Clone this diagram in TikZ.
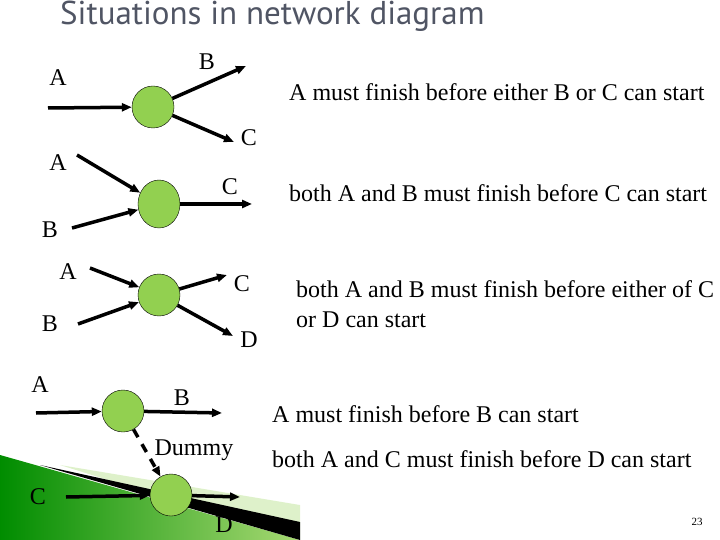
\documentclass[tikz,border=0pt]{standalone}
\usepackage{fontspec}
\setmainfont{Liberation Serif}
\newfontfamily\titlefont{PT Sans}
\usetikzlibrary{arrows.meta,shapes.geometric}
\definecolor{evgreen}{RGB}{146,208,80}
\definecolor{titlegray}{RGB}{80,85,100}
\begin{document}
\begin{tikzpicture}[x=1pt,y=-1pt,
  ev/.style={circle,draw=black,fill=evgreen,minimum size=42pt,inner sep=0pt},
  act/.style={-{Triangle[length=10pt,width=8pt]},line width=3.5pt},
  dummy/.style={act,dash pattern=on 9pt off 8pt},
  lbl/.style={font=\fontsize{24}{28}\selectfont,inner sep=0pt},
  txt/.style={font=\fontsize{24}{30}\selectfont,inner sep=0pt,anchor=west,align=left}]
\useasboundingbox (0,0) rectangle (720,540);
% decorative swoosh
\shade[left color=green!55!black,right color=evgreen!80] (0,455) -- (300,540) -- (0,540) -- cycle;
\fill[evgreen!30] (60,465) -- (300,505) -- (300,540) -- cycle;
\node[lbl] (lD) at (224,525) {D};
\fill[black] (40,465) -- (300,522) -- (300,540) -- cycle;
% title
\node[font=\titlefont\fontsize{33}{36}\selectfont,text=titlegray,anchor=west,inner sep=0pt] (title) at (60,16) {Situations in network diagram};
% 1
\node[ev] (n1) at (153,107) {};
\coordinate (a1) at (48,108); \coordinate (b1) at (246,66); \coordinate (c1) at (234,142);
\draw[act] (a1) -- (n1); \draw[act] (n1) -- (b1); \draw[act] (n1) -- (c1);
\node[lbl] (lA1) at (58,78) {A}; \node[lbl] (lB1) at (207,62) {B}; \node[lbl] (lC1) at (249,138) {C};
\node[txt] (t1) at (289,92) {A must finish before either B or C can start};
% 2
\node[ev,ellipse,minimum width=42pt,minimum height=48pt] (n2) at (159,204) {};
\coordinate (a2) at (77,155); \coordinate (b2) at (72,228); \coordinate (c2) at (252,204);
\draw[act] (a2) -- (n2); \draw[act] (b2) -- (n2); \draw[act] (n2) -- (c2);
\node[lbl] (lA2) at (58,163) {A}; \node[lbl] (lB2) at (50,230) {B}; \node[lbl] (lC2) at (230,187) {C};
\node[txt] (t2) at (289,193) {both A and B must finish before C can start};
% 3
\node[ev] (n3) at (159,295) {};
\coordinate (a3) at (90,268); \coordinate (b3) at (78,324); \coordinate (c3) at (227,275); \coordinate (d3) at (233,336);
\draw[act] (a3) -- (n3); \draw[act] (b3) -- (n3); \draw[act] (n3) -- (c3); \draw[act] (n3) -- (d3);
\node[lbl] (lA3) at (68,272) {A}; \node[lbl] (lB3) at (50,324) {B}; \node[lbl] (lC3) at (242,284) {C}; \node[lbl] (lD3) at (249,340) {D};
\node[txt] (t3) at (296,304) {both A and B must finish before either of C\\or D can start};
% 4
\node[ev] (n4) at (123,411) {};
\node[ev] (n5) at (171,495) {};
\coordinate (a4) at (36,413); \coordinate (b4) at (222,413);
\coordinate (c5) at (66,497); \coordinate (d5) at (240,497);
\draw[act] (a4) -- (n4); \draw[act] (n4) -- (b4);
\draw[dummy] (n4) -- (n5);
\draw[act] (c5) -- (n5); \draw[act] (n5) -- (d5);
\node[lbl] (lA4) at (40,385) {A}; \node[lbl] (lB4) at (182,398) {B};
\node[lbl] (lDum) at (194,450) {Dummy}; \node[lbl] (lC5) at (38,497) {C};
\node[txt] (t4) at (272,414) {A must finish before B can start};
\node[txt] (t5) at (272,459) {both A and C must finish before D can start};
\node[font=\fontsize{11}{12}\selectfont,inner sep=0pt] (pg) at (697,522) {23};
\end{tikzpicture}
\end{document}
